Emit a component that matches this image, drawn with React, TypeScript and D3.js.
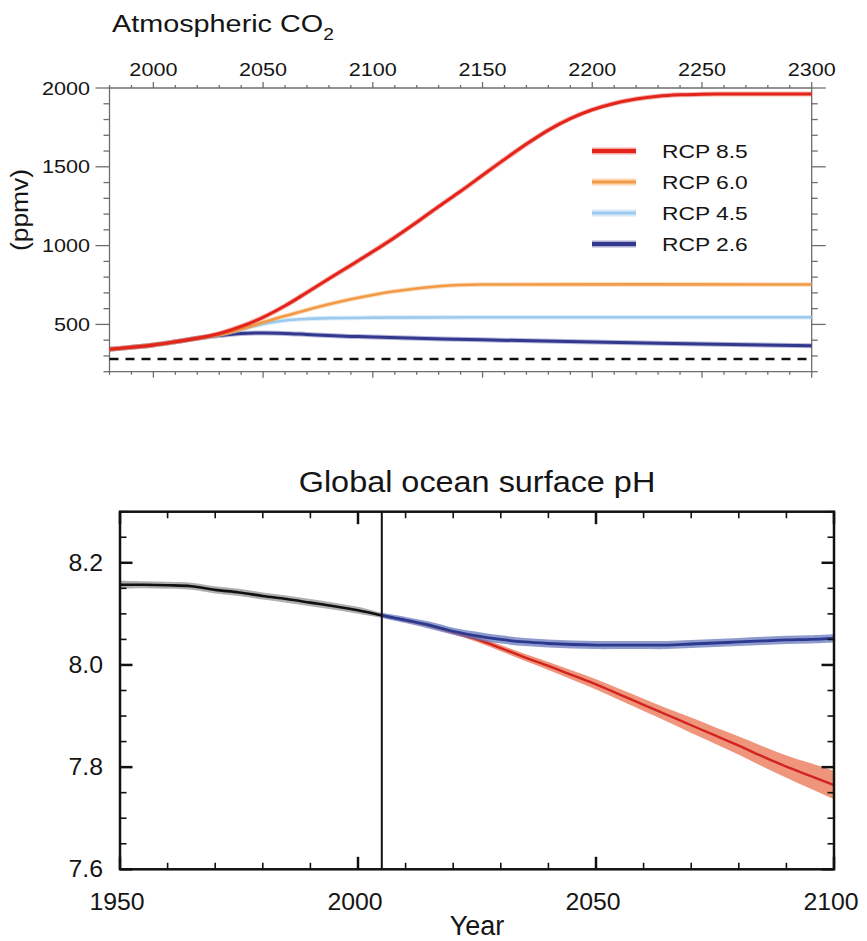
import React from "react";
import * as d3 from "d3";

// ---------- Top panel data (ppmv) ----------
const yearsA = [1980, 1990, 2000, 2010, 2020, 2030, 2040, 2050, 2060, 2070, 2080, 2090, 2100, 2110, 2120, 2130, 2140, 2150, 2160, 2170, 2180, 2190, 2200, 2210, 2220, 2230, 2240, 2250, 2260, 2300];
const rcp85 = [342, 355, 370, 390, 412, 442, 487, 545, 618, 703, 790, 875, 962, 1052, 1148, 1248, 1345, 1446, 1547, 1644, 1733, 1806, 1862, 1902, 1930, 1948, 1957, 1961, 1962, 1962];
const yearsB = [1980, 1990, 2000, 2010, 2020, 2030, 2040, 2050, 2060, 2070, 2080, 2090, 2100, 2110, 2120, 2130, 2140, 2150, 2300];
const rcp60 = [342, 355, 370, 390, 412, 434, 470, 513, 554, 592, 628, 660, 687, 710, 728, 742, 750, 753, 753];
const yearsC = [1980, 1990, 2000, 2010, 2020, 2030, 2040, 2050, 2060, 2070, 2080, 2100, 2150, 2300];
const rcp45 = [342, 355, 370, 390, 412, 433, 468, 503, 525, 535, 540, 543, 545, 545];
const yearsD = [1980, 1990, 2000, 2010, 2020, 2030, 2040, 2050, 2060, 2070, 2080, 2090, 2100, 2150, 2200, 2250, 2300];
const rcp26 = [342, 355, 370, 390, 412, 429, 442, 446, 443, 436, 429, 424, 420, 402, 389, 376, 364];
const preindustrial = 280;
const topXTicks = [2000, 2050, 2100, 2150, 2200, 2250, 2300];
const topYTicks = [500, 1000, 1500, 2000];
const legendLabels = ["RCP 8.5", "RCP 6.0", "RCP 4.5", "RCP 2.6"];
const legendColors = ["#e3241b", "#f29a45", "#9dcbef", "#33388f"];

// ---------- Bottom panel data (pH) ----------
const histYears = [1950, 1955, 1960, 1965, 1970, 1975, 1980, 1985, 1990, 1995, 2000, 2005];
const histPH = [8.157, 8.157, 8.156, 8.154, 8.147, 8.142, 8.135, 8.129, 8.122, 8.115, 8.107, 8.097];
const histLow = [8.149, 8.15, 8.149, 8.147, 8.14, 8.135, 8.128, 8.122, 8.115, 8.108, 8.1, 8.092];
const histHigh = [8.165, 8.164, 8.163, 8.161, 8.154, 8.149, 8.142, 8.136, 8.129, 8.122, 8.114, 8.102];
const futYears = [2005, 2010, 2015, 2020, 2025, 2030, 2035, 2040, 2045, 2050, 2055, 2060, 2065, 2070, 2075, 2080, 2085, 2090, 2095, 2100];
const ph85 = [8.097, 8.087, 8.077, 8.064, 8.05, 8.033, 8.015, 7.998, 7.98, 7.962, 7.942, 7.922, 7.902, 7.882, 7.862, 7.842, 7.821, 7.801, 7.783, 7.765];
const ph85Low = [8.095, 8.084, 8.074, 8.06, 8.045, 8.027, 8.008, 7.99, 7.971, 7.952, 7.931, 7.91, 7.889, 7.867, 7.846, 7.824, 7.801, 7.779, 7.758, 7.737];
const ph85High = [8.099, 8.09, 8.08, 8.068, 8.055, 8.039, 8.022, 8.006, 7.989, 7.972, 7.953, 7.934, 7.915, 7.897, 7.878, 7.86, 7.841, 7.823, 7.808, 7.793];
const ph26 = [8.097, 8.088, 8.078, 8.066, 8.057, 8.05, 8.045, 8.042, 8.04, 8.039, 8.039, 8.039, 8.039, 8.041, 8.043, 8.045, 8.047, 8.049, 8.05, 8.052];
const ph26Low = [8.092, 8.082, 8.071, 8.059, 8.049, 8.042, 8.037, 8.034, 8.032, 8.031, 8.031, 8.031, 8.031, 8.033, 8.035, 8.037, 8.039, 8.041, 8.042, 8.044];
const ph26High = [8.102, 8.094, 8.085, 8.073, 8.065, 8.058, 8.053, 8.05, 8.048, 8.047, 8.047, 8.047, 8.047, 8.049, 8.051, 8.053, 8.055, 8.057, 8.058, 8.06];
const splitYear = 2005;
const botXTicks = [1950, 2000, 2050, 2100];
const botYTicks = [7.6, 7.8, 8.0, 8.2];

const FONT = "'Liberation Sans', Arial, Helvetica, sans-serif";
const TXT = "#151515";

function zip(xs: number[], ys: number[]) {
  return xs.map((x, i) => [x, ys[i]] as [number, number]);
}

function SText({ x, y, size, sx = 1, anchor = "start", children }: any) {
  return (
    <text
      transform={`translate(${x},${y}) scale(${sx},1)`}
      fontSize={size}
      textAnchor={anchor}
      fontFamily={FONT}
      fill={TXT}
    >
      {children}
    </text>
  );
}

export default function App() {
  // Top panel geometry
  const tL = 109.5, tR = 811.7, tT = 88, tB = 371.7;
  const xA = d3.scaleLinear().domain([1980, 2300]).range([tL, tR]);
  const yA = d3.scaleLinear().domain([200, 2000]).range([tB, tT]);
  const lineA = d3
    .line<[number, number]>()
    .x((d) => xA(d[0]))
    .y((d) => yA(d[1]))
    .curve(d3.curveCatmullRom.alpha(0.5));
  const axisCol = "#6e6e6e";

  // Bottom panel geometry
  const bL = 120, bR = 834, bT = 511.7, bB = 869.3;
  const xB = d3.scaleLinear().domain([1950, 2100]).range([bL, bR]);
  const yB = d3.scaleLinear().domain([7.6, 8.3]).range([bB, bT]);
  const lineB = d3
    .line<[number, number]>()
    .x((d) => xB(d[0]))
    .y((d) => yB(d[1]))
    .curve(d3.curveCatmullRom.alpha(0.5));
  const areaB = (xs: number[], lo: number[], hi: number[]) =>
    d3
      .area<number>()
      .x((d) => xB(d))
      .y0((_, i) => yB(lo[i]))
      .y1((_, i) => yB(hi[i]))
      .curve(d3.curveCatmullRom.alpha(0.5))(xs) || "";

  const topMinorX = xA.ticks(32);
  const topMinorY = d3.range(200, 2001, 100);
  const botMinorX = xB.ticks(15);
  const botMinorY = d3.range(0, 15).map((i) => 7.6 + i * 0.05);

  const series = [
    { xs: yearsD, ys: rcp26, c: legendColors[3], w: 3 },
    { xs: yearsC, ys: rcp45, c: legendColors[2], w: 2.6 },
    { xs: yearsB, ys: rcp60, c: legendColors[1], w: 2.6 },
    { xs: yearsA, ys: rcp85, c: legendColors[0], w: 3 },
  ];

  return (
    <svg width={867} height={941} style={{ position: "absolute", left: 0, top: 0, background: "#fff" }}>
      {/* ================= TOP PANEL ================= */}
      <text transform={`translate(112,31.5) scale(1.2,1)`} fontSize={24} fontFamily={FONT} fill={TXT}>
        Atmospheric CO
        <tspan fontSize={16} dy={8}>2</tspan>
      </text>

      <g stroke={axisCol} strokeWidth={1.3} fill="none">
        <line x1={tL} x2={tR} y1={tT} y2={tT} />
        <line x1={tL} x2={tR} y1={tB} y2={tB} />
        <line x1={tL} x2={tL} y1={tT} y2={tB} />
        <line x1={tR} x2={tR} y1={tT} y2={tB} />
        {topMinorX.map((v) => {
          const major = topXTicks.includes(v);
          const len = major ? 6 : 3;
          return (
            <g key={"tx" + v}>
              <line x1={xA(v)} x2={xA(v)} y1={tT} y2={tT - len} />
              <line x1={xA(v)} x2={xA(v)} y1={tB} y2={tB + len} />
            </g>
          );
        })}
        {topMinorY.map((v) => {
          const major = topYTicks.includes(v);
          const len = major ? 14 : 6;
          return (
            <g key={"ty" + v}>
              <line x1={tL} x2={tL - len} y1={yA(v)} y2={yA(v)} />
              <line x1={tR} x2={tR + len} y1={yA(v)} y2={yA(v)} />
            </g>
          );
        })}
      </g>

      {topXTicks.map((v) => (
        <SText key={"txl" + v} x={xA(v)} y={76} size={18} sx={1.2} anchor="middle">
          {v}
        </SText>
      ))}
      {topYTicks.map((v) => (
        <SText key={"tyl" + v} x={90} y={yA(v) + 6.5} size={18} sx={1.2} anchor="end">
          {v}
        </SText>
      ))}
      <text
        transform={`translate(28,210) rotate(-90) scale(1.1,1)`}
        fontSize={24}
        textAnchor="middle"
        fontFamily={FONT}
        fill={TXT}
      >
        (ppmv)
      </text>

      <line
        x1={tL}
        x2={tR}
        y1={yA(preindustrial)}
        y2={yA(preindustrial)}
        stroke="#111"
        strokeWidth={2.5}
        strokeDasharray="9,7"
      />

      {series.map((s, i) => (
        <g key={"s" + i}>
          <path d={lineA(zip(s.xs, s.ys)) || ""} fill="none" stroke={s.c} strokeOpacity={0.35} strokeWidth={s.w + 2} />
          <path d={lineA(zip(s.xs, s.ys)) || ""} fill="none" stroke={s.c} strokeWidth={s.w} />
        </g>
      ))}

      {legendLabels.map((lab, i) => {
        const y = 151 + i * 31;
        return (
          <g key={"lg" + i}>
            <line x1={592} x2={636} y1={y} y2={y} stroke={legendColors[i]} strokeOpacity={0.4} strokeWidth={7} />
            <line x1={592} x2={636} y1={y} y2={y} stroke={legendColors[i]} strokeWidth={i === 0 || i === 3 ? 4 : 3} />
            <SText x={662} y={y + 7} size={19} sx={1.2}>
              {lab}
            </SText>
          </g>
        );
      })}

      {/* ================= BOTTOM PANEL ================= */}
      <SText x={477} y={492} size={30} sx={1.08} anchor="middle">
        Global ocean surface pH
      </SText>

      <path d={areaB(histYears, histLow, histHigh)} fill="#7a7a7a" fillOpacity={0.6} />
      <path d={lineB(zip(histYears, histPH)) || ""} fill="none" stroke="#111" strokeWidth={2.6} />

      <path d={areaB(futYears, ph85Low, ph85High)} fill="#ec8a6e" fillOpacity={0.9} />
      <path d={lineB(zip(futYears, ph85)) || ""} fill="none" stroke="#d3231f" strokeWidth={2.4} />

      <path d={areaB(futYears, ph26Low, ph26High)} fill="#5f70b8" fillOpacity={0.7} />
      <path d={lineB(zip(futYears, ph26)) || ""} fill="none" stroke="#2b3990" strokeWidth={2.8} />

      <line x1={xB(splitYear)} x2={xB(splitYear)} y1={bT} y2={bB} stroke="#111" strokeWidth={2} />

      <g stroke="#111" fill="none">
        <rect x={bL} y={bT} width={bR - bL} height={bB - bT} strokeWidth={2.5} />
        {botMinorX.map((v) => {
          const major = botXTicks.includes(v);
          const len = major ? 12.5 : 6.5;
          return (
            <g key={"bx" + v} strokeWidth={major ? 2.5 : 1.6}>
              <line x1={xB(v)} x2={xB(v)} y1={bB} y2={bB - len} />
              <line x1={xB(v)} x2={xB(v)} y1={bT} y2={bT + len} />
            </g>
          );
        })}
        {botMinorY.map((v, i) => {
          const major = botYTicks.some((t) => Math.abs(t - v) < 1e-6);
          const len = major ? 12.5 : 6.5;
          return (
            <g key={"by" + i} strokeWidth={major ? 2.5 : 1.6}>
              <line x1={bL} x2={bL + len} y1={yB(v)} y2={yB(v)} />
              <line x1={bR} x2={bR - len} y1={yB(v)} y2={yB(v)} />
            </g>
          );
        })}
      </g>

      {botXTicks.map((v) => (
        <SText key={"bxl" + v} x={xB(v) - 3} y={910} size={23} sx={1.08} anchor="middle">
          {v}
        </SText>
      ))}
      {botYTicks.map((v) => (
        <SText key={"byl" + v} x={103} y={yB(v) + 8} size={23} sx={1.08} anchor="end">
          {v.toFixed(1)}
        </SText>
      ))}
      <SText x={477} y={935} size={27} anchor="middle">
        Year
      </SText>
    </svg>
  );
}
